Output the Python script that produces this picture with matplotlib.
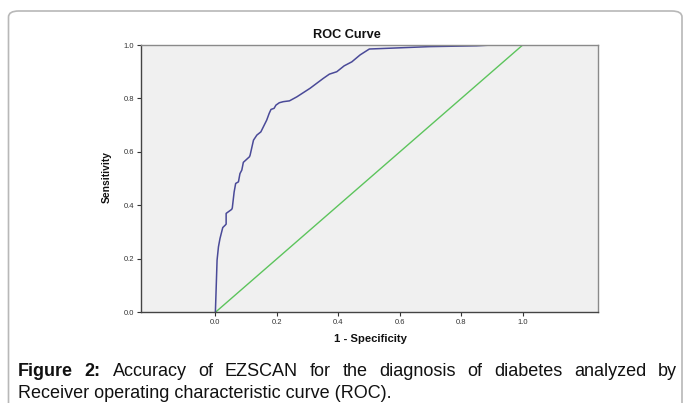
import matplotlib
matplotlib.use("Agg")
import matplotlib.pyplot as plt
from matplotlib.patches import FancyBboxPatch

# ---- data ----
fpr = [0.0, 0.002, 0.0055, 0.010, 0.015, 0.024, 0.032, 0.035, 0.035, 0.053, 0.055,
       0.061, 0.066, 0.075, 0.080, 0.086, 0.091, 0.111, 0.113, 0.124, 0.135, 0.148,
       0.167, 0.175, 0.181, 0.191, 0.197, 0.208, 0.221, 0.241, 0.265, 0.308, 0.351,
       0.371, 0.395, 0.419, 0.444, 0.471, 0.501, 0.568, 0.698, 0.850, 0.900, 1.0]
tpr = [0.0, 0.070, 0.195, 0.245, 0.276, 0.317, 0.326, 0.330, 0.370, 0.385, 0.390,
       0.450, 0.482, 0.488, 0.519, 0.532, 0.561, 0.582, 0.588, 0.644, 0.663, 0.675,
       0.719, 0.744, 0.759, 0.763, 0.775, 0.784, 0.788, 0.791, 0.806, 0.838, 0.875,
       0.891, 0.900, 0.922, 0.937, 0.963, 0.985, 0.988, 0.994, 0.997, 1.0, 1.0]
ref_x = [0.0, 1.0]
ref_y = [0.0, 1.0]
ticks = [0.0, 0.2, 0.4, 0.6, 0.8, 1.0]
tick_labels = ["0.0", "0.2", "0.4", "0.6", "0.8", "1.0"]

W, H = 683, 403
fig = plt.figure(figsize=(W / 100, H / 100), dpi=100)
plt.rcParams['font.family'] = ['Liberation Sans', 'DejaVu Sans']

def fx(px):
    return px / W

def fy(py):
    return 1 - py / H

# rounded border of the figure panel
border = FancyBboxPatch((fx(8.5), fy(420)), fx(682) - fx(8.5), fy(11) - fy(420),
                        boxstyle="round,pad=0,rounding_size=0.015",
                        transform=fig.transFigure, facecolor="none",
                        edgecolor="#b8b8b8", linewidth=1.2)
fig.patches.append(border)

ax_l, ax_r, ax_t, ax_b = 140.7, 598, 45, 312.3
ax = fig.add_axes([fx(ax_l), fy(ax_b), fx(ax_r) - fx(ax_l), fy(ax_t) - fy(ax_b)])
ax.set_facecolor("#f0f0f0")

ax.plot(ref_x, ref_y, color="#5cc45c", linewidth=1.0)
ax.plot(fpr, tpr, color="#4a4a98", linewidth=1.1)

ax.set_xlim(-0.243, 1.245)
ax.set_ylim(0, 1)
ax.set_xticks(ticks)
ax.set_xticklabels(tick_labels)
ax.set_yticks(ticks)
ax.set_yticklabels(tick_labels)
ax.tick_params(axis="both", labelsize=5.5, labelcolor="#333333", color="#333333",
               length=3, width=0.8, pad=1.5, direction="out")
for s in ("left", "bottom"):
    ax.spines[s].set_color("#444444")
    ax.spines[s].set_linewidth(1.0)
for s in ("top", "right"):
    ax.spines[s].set_color("#8a8a8a")
    ax.spines[s].set_linewidth(1.0)

fig.text(fx(346.7), fy(35), "ROC Curve", ha="center", va="center",
         fontsize=9.2, fontweight="bold", color="#111111")
fig.text(fx(370), fy(339), "1 - Specificity", ha="center", va="center",
         fontsize=8.1, fontweight="bold", color="#111111")
fig.text(fx(107), fy(177), "Sensitivity", ha="center", va="center",
         rotation=90, fontsize=7.4, fontweight="bold", color="#111111")

# caption, first line justified
fs = 13.0
words = [("Figure", "bold"), ("2:", "bold"), ("Accuracy", "normal"), ("of", "normal"),
         ("EZSCAN", "normal"), ("for", "normal"), ("the", "normal"),
         ("diagnosis", "normal"), ("of", "normal"), ("diabetes", "normal"),
         ("analyzed", "normal"), ("by", "normal")]
fig.canvas.draw()
renderer = fig.canvas.get_renderer()
x0, x1 = 18, 677
y1 = 375.5
texts = []
widths = []
for w, wt in words:
    t = fig.text(0, fy(y1), w, fontsize=fs, fontweight=wt, va="baseline", ha="left",
                 color="#111111")
    bb = t.get_window_extent(renderer=renderer)
    texts.append(t)
    widths.append(bb.width)
gap = (x1 - x0 - sum(widths)) / (len(words) - 1)
x = x0
for t, wd in zip(texts, widths):
    t.set_x(fx(x))
    x += wd + gap

fig.text(fx(18), fy(397.5), "Receiver operating characteristic curve (ROC).",
         fontsize=fs, va="baseline", ha="left", color="#111111")

fig.savefig("out.png", dpi=100)
